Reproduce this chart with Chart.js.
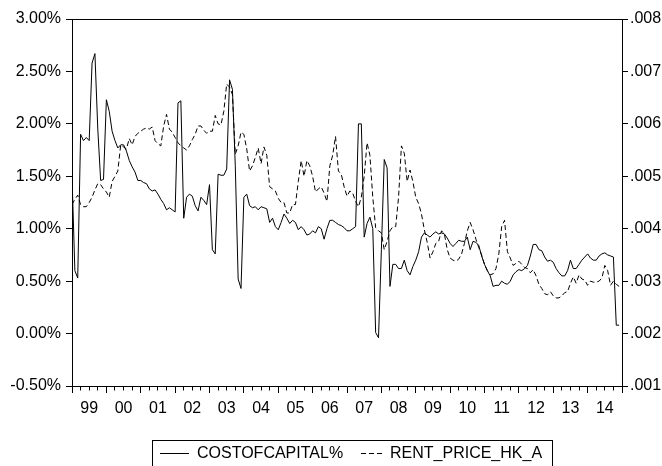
<!DOCTYPE html>
<html>
<head>
<meta charset="utf-8">
<script src="https://cdn.jsdelivr.net/npm/chart.js@4.4.1/dist/chart.umd.min.js"></script>
<style>
  html, body { margin: 0; padding: 0; background: #fff; }
  #wrap { width: 662px; height: 466px; }
</style>
</head>
<body>
<div id="wrap"><canvas id="costChart" width="662" height="466"></canvas></div>
<script>
// Data bulanan 1999M01 - 2014M12 (192 observasi)
const yearLabels = ['99','00','01','02','03','04','05','06','07','08','09','10','11','12','13','14'];

// COSTOFCAPITAL% (sumbu kiri, dalam persen)
const costOfCapital = [
  1.50, 0.60, 0.53, 1.90, 1.84, 1.87, 1.84, 2.58, 2.67, 1.95, 1.46, 1.47,
  2.23, 2.12, 1.93, 1.84, 1.77, 1.80, 1.80, 1.74, 1.65, 1.59, 1.54, 1.46,
  1.46, 1.44, 1.43, 1.38, 1.36, 1.37, 1.33, 1.28, 1.24, 1.18, 1.20, 1.18,
  1.16, 2.20, 2.22, 1.10, 1.30, 1.33, 1.31, 1.22, 1.17, 1.30, 1.27, 1.23,
  1.42, 0.80, 0.76, 1.52, 1.51, 1.51, 1.57, 2.42, 2.33, 1.60, 0.52, 0.43,
  1.30, 1.33, 1.22, 1.20, 1.21, 1.18, 1.21, 1.20, 1.19, 1.06, 1.10, 1.02,
  0.99, 1.06, 1.14, 1.10, 1.05, 1.08, 1.06, 0.99, 1.02, 0.99, 0.94, 0.95,
  0.98, 0.96, 1.02, 1.00, 0.90, 1.00, 1.08, 1.08, 1.06, 1.04, 1.03, 1.01,
  0.98, 0.98, 1.00, 1.02, 2.00, 2.00, 0.92, 1.05, 1.11, 1.00, 0.01, -0.04,
  0.80, 1.66, 1.58, 0.45, 0.66, 0.66, 0.62, 0.62, 0.70, 0.60, 0.56, 0.64,
  0.70, 0.78, 0.92, 0.96, 0.94, 0.92, 0.95, 0.97, 0.95, 0.96, 0.95, 0.91,
  0.86, 0.83, 0.86, 0.89, 0.88, 0.88, 0.92, 0.80, 0.88, 0.87, 0.84, 0.74,
  0.66, 0.60, 0.55, 0.45, 0.46, 0.46, 0.50, 0.48, 0.47, 0.50, 0.56, 0.59,
  0.61, 0.60, 0.62, 0.65, 0.74, 0.85, 0.85, 0.80, 0.79, 0.73, 0.69, 0.70,
  0.68, 0.62, 0.58, 0.55, 0.55, 0.60, 0.70, 0.62, 0.62, 0.66, 0.70, 0.73,
  0.76, 0.72, 0.70, 0.70, 0.74, 0.76, 0.77, 0.75, 0.74, 0.73, 0.08, 0.08
];

// RENT_PRICE_HK_A (sumbu kanan)
const rentPriceHK = [
  .00446, .00456, .00464, .00446, .00442, .00442, .00450, .00460, .00474, .00486, .00484, .00476,
  .00470, .00460, .00490, .00500, .00510, .00560, .00556, .00552, .00572, .00560, .00576, .00582,
  .00586, .00590, .00592, .00590, .00594, .00568, .00562, .00558, .00596, .00618, .00590, .00584,
  .00574, .00564, .00558, .00554, .00550, .00558, .00570, .00580, .00596, .00596, .00588, .00582,
  .00586, .00586, .00616, .00600, .00598, .00624, .00676, .00670, .00656, .00542, .00558, .00584,
  .00580, .00552, .00510, .00520, .00536, .00554, .00524, .00556, .00540, .00480, .00476, .00472,
  .00458, .00450, .00450, .00430, .00430, .00446, .00446, .00490, .00530, .00500, .00530, .00520,
  .00500, .00470, .00476, .00480, .00468, .00452, .00520, .00540, .00576, .00510, .00504, .00480,
  .00462, .00472, .00468, .00452, .00442, .00460, .00500, .00564, .00540, .00460, .00402, .00396,
  .00392, .00360, .00376, .00396, .00404, .00404, .00460, .00558, .00544, .00490, .00512, .00490,
  .00460, .00448, .00428, .00398, .00374, .00344, .00356, .00372, .00376, .00396, .00390, .00360,
  .00344, .00340, .00338, .00342, .00352, .00372, .00396, .00412, .00398, .00380, .00364, .00350,
  .00332, .00320, .00312, .00314, .00324, .00352, .00404, .00416, .00356, .00344, .00330, .00334,
  .00338, .00332, .00326, .00324, .00316, .00322, .00310, .00294, .00286, .00276, .00274, .00280,
  .00272, .00268, .00268, .00272, .00278, .00280, .00296, .00308, .00296, .00312, .00304, .00302,
  .00292, .00300, .00298, .00298, .00300, .00306, .00330, .00320, .00292, .00300, .00294, .00290
];

const FONT = { family: '"Liberation Sans", Arial, sans-serif', size: 16 };
const INK = '#000';

// Bingkai atas grafik + legenda dalam kotak (gaya EViews)
const frameAndLegend = {
  id: 'frameAndLegend',
  afterDraw(chart) {
    const ctx = chart.ctx;
    const area = chart.chartArea;
    ctx.save();
    ctx.strokeStyle = INK;
    ctx.lineWidth = 1;
    ctx.beginPath();
    ctx.moveTo(area.left, Math.round(area.top) + 0.5);
    ctx.lineTo(area.right, Math.round(area.top) + 0.5);
    ctx.stroke();

    // kotak legenda
    ctx.strokeRect(152.5, 440.5, 400, 40);
    ctx.font = `${FONT.size}px ${FONT.family}`;
    ctx.fillStyle = INK;
    ctx.textBaseline = 'middle';
    const y = 453.5;
    const ds = chart.data.datasets;

    ctx.beginPath();
    ctx.moveTo(160, y); ctx.lineTo(189, y);
    ctx.stroke();
    ctx.fillText(ds[0].label, 197, y);

    ctx.setLineDash([5, 3]);
    ctx.beginPath();
    ctx.moveTo(361, y); ctx.lineTo(385, y);
    ctx.stroke();
    ctx.setLineDash([]);
    ctx.fillText(ds[1].label, 390, y);
    ctx.restore();
  }
};

const ctx = document.getElementById('costChart').getContext('2d');
window.costChart = new Chart(ctx, {
  type: 'line',
  data: {
    datasets: [
      {
        label: 'COSTOFCAPITAL%',
        data: costOfCapital.map((v, i) => ({ x: i, y: v })),
        yAxisID: 'y',
        borderColor: INK, borderWidth: 1, pointRadius: 0, tension: 0
      },
      {
        label: 'RENT_PRICE_HK_A',
        data: rentPriceHK.map((v, i) => ({ x: i, y: v })),
        yAxisID: 'y1',
        borderColor: INK, borderWidth: 1, borderDash: [5, 3], pointRadius: 0, tension: 0
      }
    ]
  },
  options: {
    responsive: false,
    animation: false,
    layout: { padding: { top: 19 } },
    plugins: { legend: { display: false }, tooltip: { enabled: false } },
    scales: {
      x: {
        type: 'linear', min: 0, max: 192,
        afterBuildTicks: (scale) => {
          const t = [];
          for (let v = 0; v <= 192; v += 3) t.push({ value: v });
          scale.ticks = t;
        },
        afterFit: (scale) => { scale.height = 80; },
        border: { color: INK, width: 1 },
        grid: {
          drawOnChartArea: false, color: INK, tickLength: 7,
          // tik tahun panjang, tik kuartal pendek
          tickBorderDash: (c) => (c.tick && c.tick.value % 12 === 0) ? [] : [3.5, 20]
        },
        ticks: {
          autoSkip: false, maxRotation: 0, padding: 6, color: INK, font: FONT,
          callback: (v) => v % 12 === 6 ? yearLabels[(v - 6) / 12] : ''
        }
      },
      y: {
        position: 'left', min: -0.5, max: 3, 
        afterFit: (scale) => { scale.width = 72; },
        border: { color: INK, width: 1 },
        grid: { drawOnChartArea: false, color: INK, tickLength: 6 },
        ticks: { stepSize: 0.5, padding: 5, color: INK, font: FONT, callback: (v) => v.toFixed(2) + '%' }
      },
      y1: {
        position: 'right', min: 0.001, max: 0.008,
        afterFit: (scale) => { scale.width = 40; },
        border: { color: INK, width: 1 },
        grid: { drawOnChartArea: false, color: INK, tickLength: 6 },
        ticks: { stepSize: 0.001, padding: 2, color: INK, font: FONT, callback: (v) => v.toFixed(3).slice(1) }
      }
    }
  },
  plugins: [frameAndLegend]
});
</script>
</body>
</html>
